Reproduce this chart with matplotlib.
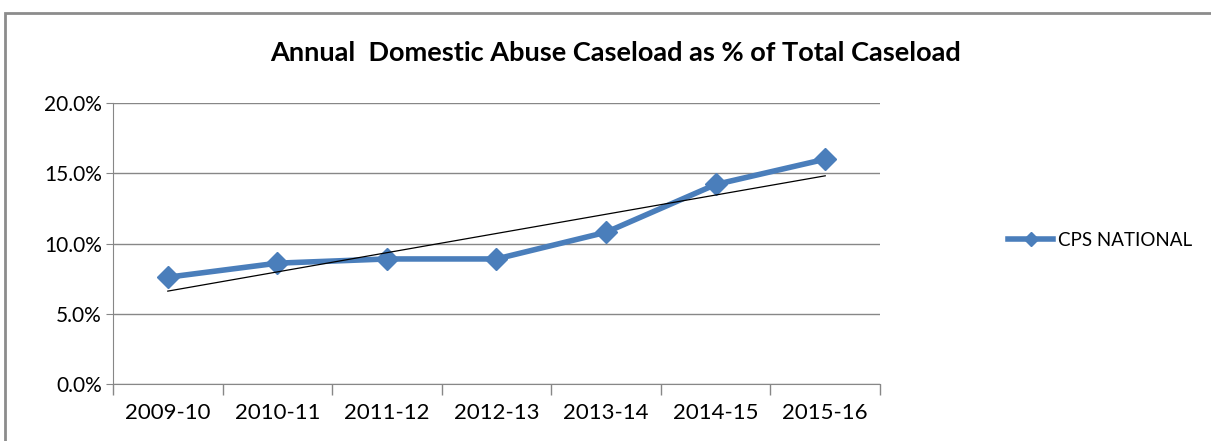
import matplotlib

matplotlib.use("Agg")

import matplotlib.pyplot as plt
import numpy as np
from matplotlib.patches import Rectangle
from matplotlib.ticker import FixedLocator, FuncFormatter

plt.rcParams["font.family"] = ["Lato", "DejaVu Sans"]

years = ["2009-10", "2010-11", "2011-12", "2012-13", "2013-14", "2014-15", "2015-16"]
cps_national = [7.6, 8.6, 8.9, 8.9, 10.8, 14.2, 16.0]

blue = "#4A7EBB"
grid_grey = "#878787"

fig = plt.figure(figsize=(12.11, 4.41), dpi=100)
ax = fig.add_axes([113 / 1211, 1 - 384 / 441, 767 / 1211, 281 / 441])

x = np.arange(1, len(years) + 1)
ax.plot(x, cps_national, color=blue, linewidth=4, marker="D", markersize=11,
        label="CPS NATIONAL", zorder=3)

# linear trendline, like Excel's
slope, intercept = np.polyfit(x, cps_national, 1)
ax.plot(x, slope * x + intercept, color="black", linewidth=0.9, zorder=4)

ax.set_xlim(0.5, len(years) + 0.5)
ax.set_ylim(0, 20)
ax.set_yticks([0, 5, 10, 15, 20])
ax.yaxis.set_major_formatter(FuncFormatter(lambda v, _: f"{v:.1f}%"))
ax.set_xticks(x)
ax.set_xticklabels(years)
ax.xaxis.set_minor_locator(FixedLocator(np.arange(0.5, len(years) + 1, 1)))
ax.tick_params(axis="x", which="major", length=0, pad=14, labelsize=16)
ax.tick_params(axis="x", which="minor", length=8, color=grid_grey, width=1)
ax.tick_params(axis="y", length=5, color=grid_grey, labelsize=15, pad=3)

ax.grid(axis="y", color=grid_grey, linewidth=1)
ax.set_axisbelow(True)
for side in ("top", "right"):
    ax.spines[side].set_visible(False)
for side in ("left", "bottom"):
    ax.spines[side].set_color(grid_grey)

fig.text(0.508, 1 - 53 / 441, "Annual  Domestic Abuse Caseload as % of Total Caseload",
         ha="center", va="center", fontsize=19.5, fontweight="bold")

leg = fig.legend(loc="center left", bbox_to_anchor=(995 / 1211, 1 - 240 / 441),
                 frameon=False, fontsize=13.5, handlelength=2.4, markerscale=0.65,
                 handletextpad=0.25, borderpad=0.2)

fig.patches.append(Rectangle((5 / 1211, -0.1), 1.2, 1.1 - 13 / 441,
                             transform=fig.transFigure, fill=False,
                             edgecolor="#8c8c8c", linewidth=2))

fig.savefig("out.png", dpi=100)
plt.close(fig)
